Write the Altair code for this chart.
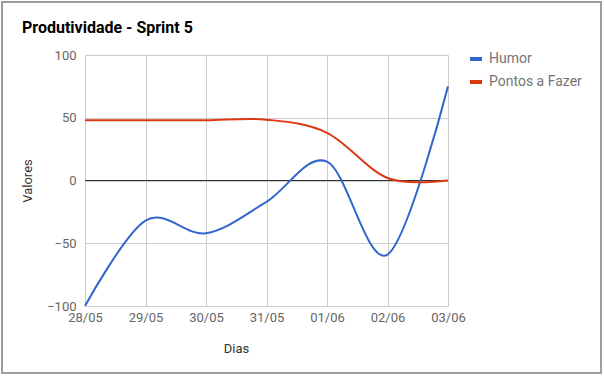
import altair as alt
import pandas as pd

dias = ["28/05", "29/05", "30/05", "31/05", "01/06", "02/06", "03/06"]
humor = [-100, -32, -42, -17, 15, -59, 75]
pontos = [48, 48, 48, 48.5, 38, 2, 0]
series = ["Humor", "Pontos a Fazer"]
cores = ["#3366cc", "#dc3912"]
y_ticks = [-100, -50, 0, 50, 100]

rows = []
for d, h, p in zip(dias, humor, pontos):
    rows.append({"Dia": d, "Serie": series[0], "Valor": h})
    rows.append({"Dia": d, "Serie": series[1], "Valor": p})
df = pd.DataFrame(rows)

FONT = "Roboto"

x = alt.X(
    "Dia:O",
    sort=dias,
    scale=alt.Scale(type="point", padding=0),
    axis=alt.Axis(
        title="Dias", labelAngle=0, grid=True, gridColor="#cccccc", ticks=False,
        domain=False, labelPadding=5, labelFontSize=13, labelColor="#666666",
        titleFontSize=13, titleColor="#333333", titleFontWeight="normal",
        titlePadding=18, titleX=151,
    ),
)
y = alt.Y(
    "Valor:Q",
    scale=alt.Scale(domain=[-100, 100], nice=False),
    axis=alt.Axis(
        title="Valores", values=y_ticks, grid=True, gridColor="#cccccc", ticks=False,
        domain=False, labelPadding=9, labelFontSize=13, labelColor="#666666",
        titleFontSize=13, titleColor="#333333", titleFontWeight="normal",
        titlePadding=12,
    ),
)

lines = alt.Chart(df).mark_line(
    interpolate="cardinal", tension=0, strokeWidth=2
).encode(
    x=x,
    y=y,
    color=alt.Color(
        "Serie:N",
        scale=alt.Scale(domain=series, range=cores),
        legend=alt.Legend(
            title=None, orient="none", legendX=383, legendY=-4,
            symbolType="stroke", symbolStrokeWidth=4, symbolSize=144,
            labelFontSize=14, labelColor="#757575", labelFont=FONT,
            rowPadding=7, labelOffset=5,
        ),
    ),
)

zero = alt.Chart(df).mark_rule(color="#333333", strokeWidth=1).encode(
    y=alt.datum(0)
)

border = alt.Chart(df).mark_rect(
    filled=False, stroke="#9e9e9e", strokeWidth=1.5
).encode(
    x=alt.value(-83), x2=alt.value(516), y=alt.value(-53), y2=alt.value(318)
)

chart = alt.layer(zero, lines, border).properties(
    width=363,
    height=251,
    padding={"left": 85, "top": 55, "right": 156, "bottom": 70},
    autosize=alt.AutoSizeParams(type="none"),
    title=alt.Title(
        "Produtividade - Sprint 5", anchor="start", frame="group", dx=-63,
        fontSize=16, fontWeight="bold", font=FONT, color="#000000",
        baseline="alphabetic", offset=-48,
    ),
).configure(font=FONT).configure_view(stroke=None)

chart.save("out.html", embed_options={"renderer": "svg", "actions": False})
